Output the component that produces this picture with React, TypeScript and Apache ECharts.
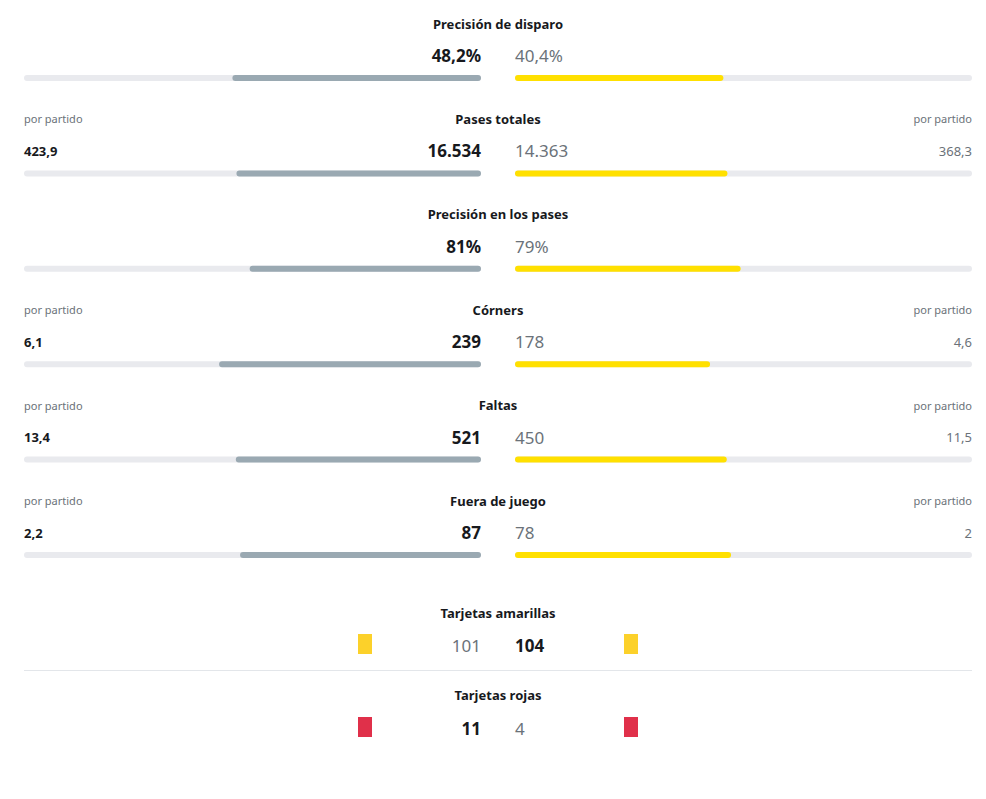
import React, { useEffect, useRef } from "react";
import * as echarts from "echarts";

const categories = [
  "Precisión de disparo",
  "Pases totales",
  "Precisión en los pases",
  "Córners",
  "Faltas",
  "Fuera de juego",
];
const homeValues = [48.2, 16534, 81, 239, 521, 87];
const awayValues = [40.4, 14363, 79, 178, 450, 78];
const valueSuffix = ["%", "", "%", "", "", ""];
const homePerMatch: (number | null)[] = [null, 423.9, null, 6.1, 13.4, 2.2];
const awayPerMatch: (number | null)[] = [null, 368.3, null, 4.6, 11.5, 2];
const perMatchLabel = "por partido";

const cardCategories = ["Tarjetas amarillas", "Tarjetas rojas"];
const homeCards = [101, 11];
const awayCards = [104, 4];
const cardColors = ["#fcd12a", "#e0304a"];

const FONT = "'Noto Sans', sans-serif";
const DARK = "#17191d";
const GRAY = "#6b7279";
const HOME_COLOR = "#9aa9b2";
const AWAY_COLOR = "#ffe000";
const TRACK = "#e9eaee";

function fmt(v: number): string {
  const [i, d] = String(v).split(".");
  const ip = i.replace(/\B(?=(\d{3})+(?!\d))/g, ".");
  return d ? ip + "," + d : ip;
}

export default function App() {
  const ref = useRef<HTMLDivElement>(null);
  useEffect(() => {
    if (!ref.current) return;
    const chart = echarts.init(ref.current, null, { renderer: "svg" });

    const LEFT_X = 24;
    const CENTER_L = 481;
    const CENTER_R = 515;
    const RIGHT_X = 972;
    const MID = 498;
    const TOP = 30.3;
    const STEP = 95.4;
    const n = categories.length;

    const homeShare = homeValues.map((v, i) => v / (v + awayValues[i]));
    const awayShare = awayValues.map((v, i) => v / (v + homeValues[i]));

    const graphics: any[] = [];
    const txt = (
      x: number,
      y: number,
      text: string,
      align: string,
      size: number,
      weight: string,
      color: string
    ) => ({
      type: "text",
      x,
      y,
      style: {
        text,
        align,
        verticalAlign: "middle",
        font: `${weight} ${size}px ${FONT}`,
        fill: color,
      },
    });

    categories.forEach((cat, i) => {
      const c = TOP + (i + 0.5) * STEP;
      const homeWins = homeValues[i] >= awayValues[i];
      graphics.push(txt(MID, c - 54.5, cat, "center", 13, "bold", DARK));
      graphics.push(
        txt(
          CENTER_L,
          c - 22.5,
          fmt(homeValues[i]) + valueSuffix[i],
          "right",
          17,
          homeWins ? "bold" : "normal",
          homeWins ? DARK : GRAY
        )
      );
      graphics.push(
        txt(
          CENTER_R,
          c - 22.5,
          fmt(awayValues[i]) + valueSuffix[i],
          "left",
          17,
          homeWins ? "normal" : "bold",
          homeWins ? GRAY : DARK
        )
      );
      const hp = homePerMatch[i];
      const ap = awayPerMatch[i];
      if (hp != null && ap != null) {
        const hw = hp >= ap;
        graphics.push(txt(LEFT_X, c - 54.5, perMatchLabel, "left", 11, "normal", GRAY));
        graphics.push(txt(RIGHT_X, c - 54.5, perMatchLabel, "right", 11, "normal", GRAY));
        graphics.push(
          txt(LEFT_X, c - 22.5, fmt(hp), "left", 13, hw ? "bold" : "normal", hw ? DARK : GRAY)
        );
        graphics.push(
          txt(RIGHT_X, c - 22.5, fmt(ap), "right", 13, hw ? "normal" : "bold", hw ? GRAY : DARK)
        );
      }
    });

    // cards section
    const cardRows = [
      { title: 613, value: 645 },
      { title: 695, value: 728 },
    ];
    cardCategories.forEach((cat, i) => {
      const r = cardRows[i];
      const homeWins = homeCards[i] >= awayCards[i];
      graphics.push(txt(MID, r.title, cat, "center", 13, "bold", DARK));
      graphics.push(
        txt(CENTER_L, r.value, fmt(homeCards[i]), "right", 17, homeWins ? "bold" : "normal", homeWins ? DARK : GRAY)
      );
      graphics.push(
        txt(CENTER_R, r.value, fmt(awayCards[i]), "left", 17, homeWins ? "normal" : "bold", homeWins ? GRAY : DARK)
      );
      graphics.push({
        type: "rect",
        shape: { x: 358, y: r.value - 11, width: 14, height: 20 },
        style: { fill: cardColors[i] },
      });
      graphics.push({
        type: "rect",
        shape: { x: 624, y: r.value - 11, width: 14, height: 20 },
        style: { fill: cardColors[i] },
      });
    });
    graphics.push({
      type: "line",
      shape: { x1: LEFT_X, y1: 670.5, x2: RIGHT_X, y2: 670.5 },
      style: { stroke: "#e3e6ea", lineWidth: 1 },
    });

    const gridH = STEP * n;
    chart.setOption({
      animation: false,
      grid: [
        { left: LEFT_X, width: CENTER_L - LEFT_X, top: TOP, height: gridH },
        { left: CENTER_R, width: RIGHT_X - CENTER_R, top: TOP, height: gridH },
      ],
      xAxis: [
        { type: "value", gridIndex: 0, min: 0, max: 1, inverse: true, show: false },
        { type: "value", gridIndex: 1, min: 0, max: 1, show: false },
      ],
      yAxis: [
        { type: "category", gridIndex: 0, data: categories, inverse: true, show: false },
        { type: "category", gridIndex: 1, data: categories, inverse: true, show: false },
      ],
      series: [
        {
          type: "bar",
          xAxisIndex: 0,
          yAxisIndex: 0,
          data: homeShare,
          barWidth: 6,
          itemStyle: { color: HOME_COLOR, borderRadius: 3 },
          showBackground: true,
          backgroundStyle: { color: TRACK, borderRadius: 3 },
        },
        {
          type: "bar",
          xAxisIndex: 1,
          yAxisIndex: 1,
          data: awayShare,
          barWidth: 6,
          itemStyle: { color: AWAY_COLOR, borderRadius: 3 },
          showBackground: true,
          backgroundStyle: { color: TRACK, borderRadius: 3 },
        },
      ],
      graphic: graphics,
    });
    return () => chart.dispose();
  }, []);
  return (
    <div
      ref={ref}
      style={{ position: "fixed", left: 0, top: 0, width: 986, height: 799, background: "#fff" }}
    />
  );
}
